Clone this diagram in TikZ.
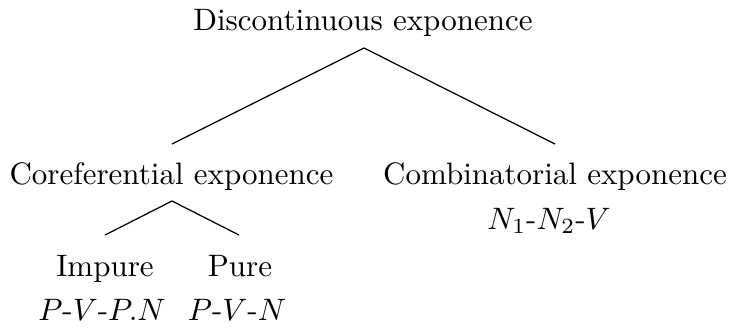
\documentclass[tikz,border=0pt]{standalone}
\begin{document}
\begin{tikzpicture}[x=0.3226pt,y=-0.3226pt,
  lbl/.style={anchor=base,inner sep=0pt,font=\fontsize{10}{12}\selectfont},
  edge/.style={line width=0.4pt}]
\useasboundingbox (0,0) rectangle (730,328);
\node[lbl] (root) at (363,30) {Discontinuous exponence};
\node[lbl] (coref) at (171.5,184) {Coreferential exponence};
\node[lbl] (comb) at (555,184) {Combinatorial exponence};
\node[lbl] (combex) at (549,229) {$N_1$-$N_2$-$V$};
\node[lbl] (impure) at (105,276) {Impure};
\node[lbl] (pure) at (240,276) {Pure};
\node[lbl] (impex) at (102,320) {$P$-$V$-$P.N$};
\node[lbl] (purex) at (237,320) {$P$-$V$-$N$};
\coordinate (rootb) at (364,48);
\coordinate (coreft) at (172,144);
\coordinate (combt) at (555,144);
\coordinate (corefb) at (172,201);
\coordinate (impuret) at (105,235);
\coordinate (puret) at (239,235);
\draw[edge] (rootb) -- (coreft);
\draw[edge] (rootb) -- (combt);
\draw[edge] (corefb) -- (impuret);
\draw[edge] (corefb) -- (puret);
\end{tikzpicture}
\end{document}
